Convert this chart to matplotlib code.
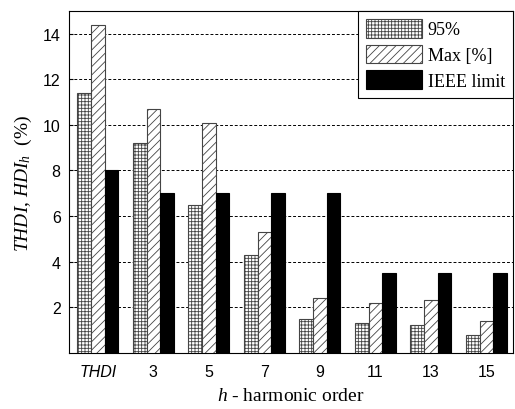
import numpy as np
import matplotlib.pyplot as plt

categories = ["THDI", "3", "5", "7", "9", "11", "13", "15"]
p95 = [11.4, 9.2, 6.5, 4.3, 1.5, 1.3, 1.2, 0.8]
pmax = [14.4, 10.7, 10.1, 5.3, 2.4, 2.2, 2.3, 1.4]
ieee = [8.0, 7.0, 7.0, 7.0, 7.0, 3.5, 3.5, 3.5]

plt.rcParams["hatch.linewidth"] = 0.6
plt.rcParams["mathtext.fontset"] = "custom"
plt.rcParams["mathtext.it"] = "Liberation Serif:italic"
plt.rcParams["mathtext.rm"] = "Liberation Serif"

fig = plt.figure(figsize=(5.15, 4.1), dpi=100)
ax = fig.add_axes([0.134, 0.137, 0.862, 0.834])

x = np.arange(len(categories))
w = 0.245
ax.bar(x - w, p95, w, facecolor="white", edgecolor="#444444", hatch="+++++", lw=0.8,
       label="95%", zorder=3)
ax.bar(x, pmax, w, facecolor="white", edgecolor="#444444", hatch="////", lw=0.8,
       label="Max [%]", zorder=3)
ax.bar(x + w, ieee, w, facecolor="black", edgecolor="black", lw=0.8,
       label="IEEE limit", zorder=3)

ax.set_xlim(-0.52, 7.48)
ax.set_ylim(0, 15)
ax.set_yticks([2, 4, 6, 8, 10, 12, 14])
ax.set_xticks(x)
ax.set_xticklabels(categories, family="Liberation Sans", fontsize=11.5)
ax.get_xticklabels()[0].set_style("italic")
for t in ax.get_yticklabels():
    t.set_family("Liberation Sans")
    t.set_fontsize(11.5)
ax.tick_params(axis="both", direction="in", length=3, pad=6)
ax.tick_params(axis="x", length=0, pad=8)
ax.yaxis.grid(True, color="black", linestyle=(0, (3, 2)), lw=0.7, zorder=0)

ax.set_ylabel(r"$THDI$, $HDI_h$  (%)", family="Liberation Serif",
              fontsize=14, labelpad=6)
ax.set_xlabel(r"$h$ - harmonic order", family="Liberation Serif", fontsize=14,
              labelpad=6)

leg = ax.legend(loc="upper right", prop={"family": "Liberation Serif", "size": 13},
                fancybox=False, edgecolor="black", framealpha=1, borderaxespad=0,
                handlelength=3.1, handleheight=1.2, labelspacing=0.35,
                handletextpad=0.3, borderpad=0.45)
leg.get_frame().set_linewidth(0.8)

fig.savefig("out.png", dpi=100)
